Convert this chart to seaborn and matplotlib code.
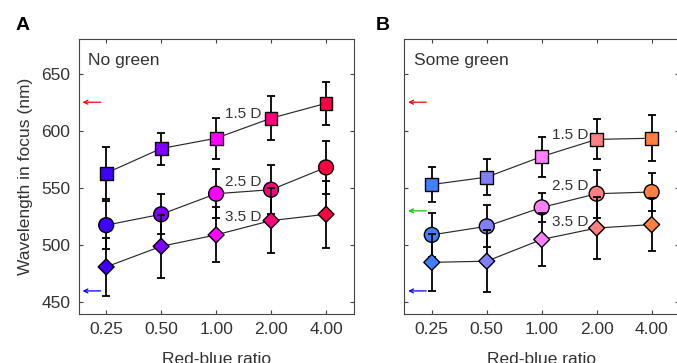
import numpy as np
import pandas as pd
import matplotlib
matplotlib.use("Agg")
import matplotlib.pyplot as plt
import seaborn as sns

# ---- data ----
ratios = ["0.25", "0.50", "1.00", "2.00", "4.00"]
diopters = ["1.5 D", "2.5 D", "3.5 D"]

A_15 = [563, 584.5, 593.5, 611, 624]
A_15_err = [23, 14, 18, 19, 19]
A_25 = [517.5, 527, 545, 548.5, 568]
A_25_err = [21, 17.5, 21.5, 21.5, 23.5]
A_35 = [481, 499, 509, 521.5, 527]
A_35_err = [25.5, 27.5, 24, 28.5, 29.5]

B_15 = [553, 559.5, 577.5, 592.5, 593.5]
B_15_err = [15.5, 15.5, 17.5, 17.5, 20]
B_25 = [509, 516.5, 533, 545, 546.5]
B_25_err = [19.5, 18.5, 13, 21, 17]
B_35 = [485, 486, 505, 515, 518]
B_35_err = [25, 27, 23, 27, 23]

A_colors = ["#4000ff", "#8000ff", "#ff00ff", "#ff0080", "#ff0040"]
B_colors = ["#4080ff", "#8080ff", "#ff80ff", "#ff8080", "#ff8040"]

arrow_levels_A = [625, 460]
arrow_colors_A = ["#ff0000", "#0000ff"]
arrow_levels_B = [625, 530, 460]
arrow_colors_B = ["#ff0000", "#00cc00", "#0000ff"]

label_y_A = [615, 555, 525]
label_y_B = [596.5, 552, 520]

# ---- style ----
sns.set_style("ticks")
plt.rcParams["font.family"] = ["Liberation Sans", "DejaVu Sans"]
TXT = "#333333"
plt.rcParams["text.color"] = TXT
plt.rcParams["axes.labelcolor"] = TXT
plt.rcParams["xtick.color"] = "#444444"
plt.rcParams["ytick.color"] = "#444444"
plt.rcParams["xtick.labelcolor"] = TXT
plt.rcParams["ytick.labelcolor"] = TXT

fig = plt.figure(figsize=(6.77, 3.63), dpi=100)
W, H = 677.0, 363.0
ax_w = (353.5 - 78.7) / W
ax_b = 1 - 313.8 / H
ax_h = (313.8 - 39.3) / H
axA = fig.add_axes([78.7 / W, ax_b, ax_w, ax_h])
axB = fig.add_axes([404.3 / W, ax_b, ax_w, ax_h])

markers = ["s", "o", "D"]
sizes = [85, 115, 66]


def draw_panel(ax, series, errs, colors, title, arrows, arrow_cols, label_y, label_x):
    idx = np.arange(len(ratios))
    pal = dict(zip(ratios, colors))
    for i, (vals, err) in enumerate(zip(series, errs)):
        df = pd.DataFrame({"idx": idx, "ratio": ratios, "value": vals})
        z = 2 + 2 * i
        ax.errorbar(idx, vals, yerr=err, fmt="none", ecolor="black",
                    elinewidth=1.3, capsize=2.6, capthick=1.3, zorder=z)
        sns.lineplot(data=df, x="idx", y="value", color="#2a2a2a", lw=0.85,
                     ax=ax, zorder=z, legend=False)
        sns.scatterplot(data=df, x="idx", y="value", hue="ratio", palette=pal,
                        marker=markers[i], s=sizes[i], edgecolor="black",
                        linewidth=1.0, ax=ax, zorder=z + 1, legend=False)
        ax.text(label_x, label_y[i], diopters[i], ha="right", va="center",
                fontsize=11, color=TXT, zorder=10)
    for lev, col in zip(arrows, arrow_cols):
        ax.annotate("", xy=(-0.43, lev), xytext=(-0.1, lev),
                    arrowprops=dict(arrowstyle="->", color=col, lw=0.9,
                                    shrinkA=0, shrinkB=0, mutation_scale=7))
    ax.text(0.035, 0.906, title, transform=ax.transAxes, ha="left",
            va="baseline", fontsize=12.5, color=TXT)
    ax.set_xlim(-0.5, 4.5)
    ax.set_ylim(440, 680)
    ax.set_xticks(idx)
    ax.set_xticklabels(ratios)
    ax.set_yticks([450, 500, 550, 600, 650])
    ax.tick_params(direction="in", length=3, width=0.8, top=True, right=True,
                   labelsize=12.5, pad=6)
    ax.set_xlabel("Red-blue ratio", fontsize=12.5, labelpad=11)
    for sp in ax.spines.values():
        sp.set_linewidth(0.8)
        sp.set_color("#444444")
        sp.set_visible(True)


draw_panel(axA, [A_15, A_25, A_35], [A_15_err, A_25_err, A_35_err], A_colors,
           "No green", arrow_levels_A, arrow_colors_A, label_y_A, 2.82)
draw_panel(axB, [B_15, B_25, B_35], [B_15_err, B_25_err, B_35_err], B_colors,
           "Some green", arrow_levels_B, arrow_colors_B, label_y_B, 2.85)

axA.set_ylabel("Wavelength in focus (nm)", fontsize=12.5, labelpad=6)
axB.set_ylabel("")
axB.set_yticklabels([])

fig.text(16 / W, 1 - 30 / H, "A", fontsize=14, fontweight="bold", color="black")
fig.text(375.5 / W, 1 - 30 / H, "B", fontsize=14, fontweight="bold", color="black")

fig.savefig("out.png", dpi=100)
